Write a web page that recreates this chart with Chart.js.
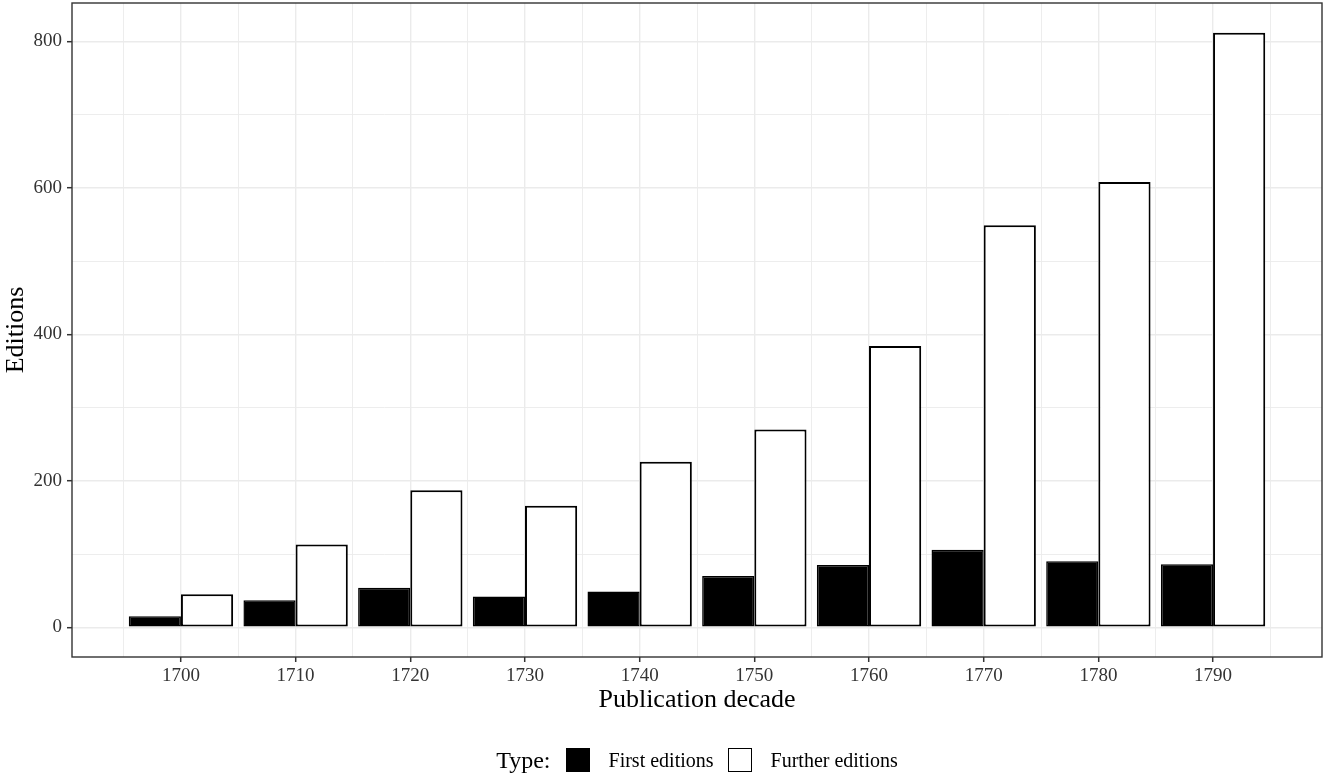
<!DOCTYPE html>
<html>
<head>
<meta charset="utf-8">
<script src="https://cdn.jsdelivr.net/npm/chart.js@4"></script>
<style>
html,body{margin:0;padding:0;background:#fff;}
#wrap{position:relative;width:1325px;height:778px;}
#legend{position:absolute;left:72px;width:1250px;top:745px;height:30px;display:flex;justify-content:center;align-items:center;font-family:"Liberation Serif",serif;color:#000;}
#legend .title{font-size:24px;margin-right:15px;}
#legend .box{width:24px;height:24px;box-sizing:border-box;margin-right:19px;}
#legend .lab{font-size:20px;margin-right:14px;}
</style>
</head>
<body>
<div id="wrap">
<canvas id="c" width="1325" height="778"></canvas>
<div id="legend">
  <span class="title">Type:</span>
  <span class="box" style="background:#000;border:1.5px solid #000;"></span>
  <span class="lab">First editions</span>
  <span class="box" style="background:#fff;border:1.5px solid #000;"></span>
  <span class="lab" style="margin-right:0">Further editions</span>
</div>
</div>
<script>
const decades = [1700, 1710, 1720, 1730, 1740, 1750, 1760, 1770, 1780, 1790];
const firstEditions = [15, 37, 54, 42, 49, 70, 85, 106, 90, 86];
const furtherEditions = [45, 113, 187, 166, 226, 270, 384, 549, 608, 812];
const yMajorTicks = [0, 200, 400, 600, 800];
const yMinorTicks = [100, 300, 500, 700];
const xMinorTicks = [1695, 1705, 1715, 1725, 1735, 1745, 1755, 1765, 1775, 1785, 1795];

Chart.defaults.font.family = '"Liberation Serif", serif';

const panelBorder = {
  id: 'panelBorder',
  afterDatasetsDraw(chart) {
    const {ctx, chartArea: a} = chart;
    ctx.save();
    ctx.strokeStyle = '#333333';
    ctx.lineWidth = 1.4;
    ctx.strokeRect(a.left, a.top, a.right - a.left, a.bottom - a.top);
    ctx.restore();
  }
};

const isMajorX = v => decades.includes(v);
const isMajorY = v => yMajorTicks.includes(v);

new Chart(document.getElementById('c'), {
  type: 'bar',
  data: {
    datasets: [
      {
        label: 'First editions',
        data: decades.map((d, i) => ({x: d, y: firstEditions[i]})),
        backgroundColor: '#000000',
        borderColor: '#000000',
        borderWidth: 1.5,
        borderSkipped: false,
        categoryPercentage: 1.82,
        barPercentage: 1.0
      },
      {
        label: 'Further editions',
        data: decades.map((d, i) => ({x: d, y: furtherEditions[i]})),
        backgroundColor: '#ffffff',
        borderColor: '#000000',
        borderWidth: 2,
        borderSkipped: false,
        categoryPercentage: 1.82,
        barPercentage: 1.0
      }
    ]
  },
  options: {
    responsive: false,
    animation: false,
    devicePixelRatio: 1,
    layout: {padding: {left: 0, top: 3, right: 3, bottom: 61}},
    plugins: {legend: {display: false}, tooltip: {enabled: false}},
    scales: {
      x: {
        type: 'linear',
        min: 1690.5,
        max: 1799.5,
        offset: false,
        afterBuildTicks: s => { s.ticks = decades.concat(xMinorTicks).sort((a, b) => a - b).map(v => ({value: v})); },
        afterFit: s => { s.height = 60; s.paddingLeft = 0; s.paddingRight = 0; },
        ticks: {
          autoSkip: false,
          maxRotation: 0,
          padding: 3,
          color: '#333333',
          font: {size: 19},
          callback: v => isMajorX(v) ? String(v) : ''
        },
        grid: {
          offset: false,
          color: '#EBEBEB',
          lineWidth: ctx => (ctx.tick && isMajorX(ctx.tick.value)) ? 1.4 : 0.9,
          tickColor: ctx => (ctx.tick && isMajorX(ctx.tick.value)) ? '#333333' : 'rgba(0,0,0,0)',
          tickWidth: 1.5,
          tickLength: 5,
          drawTicks: true
        },
        border: {display: false},
        title: {display: true, text: 'Publication decade', color: '#000', font: {size: 26}, padding: {top: 0, bottom: 1}}
      },
      y: {
        type: 'linear',
        min: -40.6,
        max: 852.6,
        afterBuildTicks: s => { s.ticks = yMajorTicks.concat(yMinorTicks).sort((a, b) => a - b).map(v => ({value: v})); },
        afterFit: s => { s.width = 72; s.paddingTop = 0; s.paddingBottom = 0; },
        ticks: {
          autoSkip: false,
          padding: 5,
          color: '#333333',
          font: {size: 19},
          callback: v => isMajorY(v) ? String(v) : ''
        },
        grid: {
          offset: false,
          color: '#EBEBEB',
          lineWidth: ctx => (ctx.tick && isMajorY(ctx.tick.value)) ? 1.4 : 0.9,
          tickColor: ctx => (ctx.tick && isMajorY(ctx.tick.value)) ? '#333333' : 'rgba(0,0,0,0)',
          tickWidth: 1.5,
          tickLength: 5,
          drawTicks: true
        },
        border: {display: false},
        title: {display: true, text: 'Editions', color: '#000', font: {size: 26}, padding: {top: 1, bottom: 0}}
      }
    }
  },
  plugins: [panelBorder]
});
</script>
</body>
</html>
